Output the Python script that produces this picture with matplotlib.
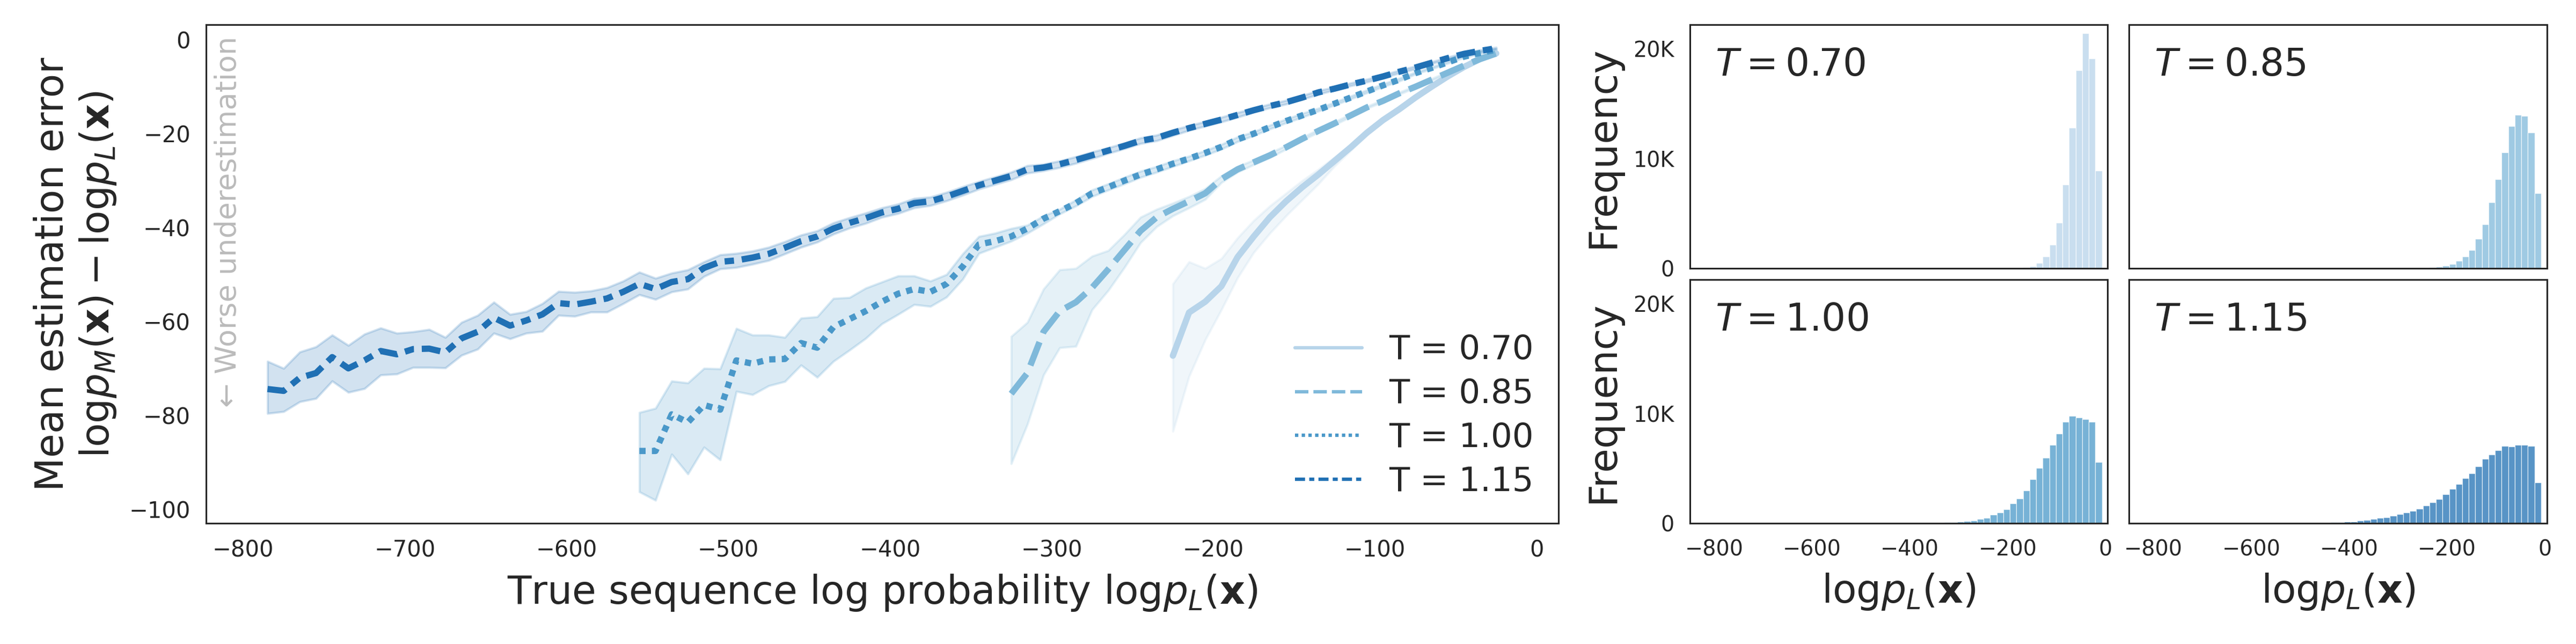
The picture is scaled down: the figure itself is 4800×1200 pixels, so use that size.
import numpy as np
import matplotlib.pyplot as plt

plt.rcParams['font.family'] = 'DejaVu Sans'
plt.rcParams['mathtext.fontset'] = 'dejavusans'
dark = '#262626'

# ---- left panel: mean estimation error per bin of log p_L(x) ----
temps = ['0.70', '0.85', '1.00', '1.15']

x_070 = np.arange(-225, -24, 10)
mean_070 = [-67.3, -58.1, -55.8, -52.5, -46.3, -41.9, -37.8, -34.4, -31.4, -28.7, -25.8,
            -22.9, -19.8, -17.1, -14.8, -12.3, -10.0, -7.8, -5.8, -4.1, -2.9]
hi_070 = [-52.0, -47.3, -48.7, -46.6, -42.2, -38.5, -35.4, -32.7, -30.0, -27.6, -25.0,
          -22.3, -19.3, -16.7, -14.5, -12.0, -9.8, -7.6, -5.6, -3.9, -2.7]
lo_070 = [-83.4, -71.7, -63.9, -57.5, -50.7, -45.3, -41.2, -37.5, -34.1, -30.7, -26.9,
          -23.6, -20.3, -17.5, -15.1, -12.6, -10.2, -8.0, -6.0, -4.3, -3.1]

x_085 = np.arange(-325, -24, 10)
mean_085 = [-75.4, -71.0, -62.2, -57.8, -55.9, -52.8, -48.9, -44.8, -40.7, -37.8, -36.0,
            -34.4, -32.7, -29.7, -27.6, -26.1, -24.6, -22.9, -21.1, -19.4, -17.8, -16.1,
            -14.4, -13.0, -11.4, -10.0, -8.5, -7.0, -5.5, -4.1, -2.9]
hi_085 = [-63.2, -60.2, -53.1, -49.0, -48.7, -46.1, -44.9, -41.5, -37.8, -36.1, -34.8,
          -33.4, -31.7, -29.0, -27.0, -25.6, -24.1, -22.5, -20.8, -19.1, -17.5, -15.8,
          -14.2, -12.8, -11.2, -9.8, -8.3, -6.8, -5.3, -3.9, -2.7]
lo_085 = [-90.3, -81.9, -71.4, -65.6, -65.3, -57.5, -53.4, -48.5, -43.2, -39.8, -37.5,
          -35.8, -34.0, -30.4, -28.2, -26.6, -25.1, -23.3, -21.4, -19.7, -18.1, -16.4,
          -14.6, -13.2, -11.6, -10.2, -8.7, -7.2, -5.7, -4.3, -3.1]

x_100 = np.arange(-555, -24, 10)
mean_100 = [-87.6, -87.6, -79.8, -81.5, -77.8, -78.8, -68.3, -69.0, -68.1, -68.0, -64.6,
            -65.6, -61.2, -59.5, -57.8, -55.8, -54.1, -53.1, -53.7, -52.0, -48.3, -43.6,
            -42.9, -41.9, -40.2, -38.1, -36.5, -34.8, -32.7, -31.4, -30.0, -28.7,
            -27.6, -26.4, -25.3, -24.1, -22.8, -21.2, -20.0, -18.6, -17.3, -16.1, -14.9,
            -13.6, -12.3, -11.0, -9.7, -8.5, -7.1, -6.0, -4.8, -3.6, -2.8, -2.1]
hi_100 = [-79.4, -78.5, -72.7, -73.1, -70.0, -70.1, -61.5, -62.9, -62.9, -63.4, -59.3,
          -59.0, -55.1, -54.9, -52.9, -51.6, -50.3, -50.3, -51.4, -50.0, -45.6, -41.9,
          -41.2, -40.2, -39.5, -37.5, -36.1, -34.1, -32.0, -30.7, -29.3, -28.0,
          -27.0, -25.8, -24.8, -23.6, -22.3, -20.7, -19.6, -18.2, -16.9, -15.7, -14.6,
          -13.3, -12.0, -10.7, -9.4, -8.2, -6.9, -5.8, -4.6, -3.4, -2.6, -1.9]
lo_100 = [-96.3, -98.1, -88.3, -92.5, -86.8, -89.5, -74.9, -75.6, -73.7, -72.8, -69.3,
          -71.9, -68.5, -66.1, -63.6, -60.5, -58.5, -56.4, -56.8, -54.8, -51.0, -45.5,
          -44.2, -42.9, -41.2, -39.2, -37.1, -35.4, -33.4, -32.0, -30.7, -29.3,
          -28.2, -27.0, -25.8, -24.6, -23.3, -21.7, -20.4, -19.0, -17.7, -16.5, -15.2,
          -13.9, -12.6, -11.3, -10.0, -8.8, -7.3, -6.2, -5.0, -3.8, -3.0, -2.3]

x_115 = np.arange(-785, -24, 10)
mean_115 = [-74.4, -74.8, -72.0, -71.0, -67.6, -70.0, -68.3, -66.3, -67.0, -65.9, -65.8,
            -66.6, -63.6, -62.2, -59.2, -60.9, -59.8, -58.5, -56.1, -56.4, -55.8, -55.1,
            -53.7, -52.0, -53.1, -51.6, -51.0, -48.6,
            -47.3, -47.0, -46.4, -45.6, -44.3, -42.9, -41.9, -40.2, -39.0, -38.0, -36.8,
            -36.0, -34.8, -34.4, -33.4, -32.2, -31.0, -30.0, -29.0, -27.6, -27.2, -26.5,
            -25.6, -24.6, -23.6, -22.6, -21.5,
            -20.9, -19.8, -18.8, -17.9, -17.0, -16.0, -15.0, -14.1, -13.3, -12.3, -11.2,
            -10.4, -9.5, -8.7, -7.8, -6.8, -5.9, -4.9, -3.9, -3.0, -2.35, -1.8]
hi_115 = [-68.5, -70.0, -66.5, -65.4, -62.9, -65.1, -62.7, -61.4, -62.5, -62.2, -61.7,
          -63.4, -60.2, -58.7, -55.9, -58.5, -57.9, -56.2, -53.6, -53.8, -53.5, -52.8,
          -51.4, -49.5, -50.8, -49.7, -49.0, -47.3,
          -45.8, -45.5, -45.0, -44.2, -43.0, -41.6, -40.7, -39.0, -37.9, -36.9, -35.8,
          -35.0, -33.8, -33.5, -32.5, -31.3, -30.2, -29.2, -28.2, -26.8, -26.5, -25.8,
          -24.9, -23.9, -23.0, -22.0, -20.9,
          -20.3, -19.2, -18.3, -17.4, -16.5, -15.5, -14.6, -13.7, -12.9, -11.9, -10.8,
          -10.1, -9.2, -8.4, -7.5, -6.5, -5.6, -4.7, -3.7, -2.8, -2.15, -1.6]
lo_115 = [-79.6, -79.2, -77.1, -76.4, -72.7, -75.1, -74.3, -71.4, -71.2, -69.8, -69.8,
          -69.9, -67.2, -65.9, -62.5, -63.7, -62.5, -62.1, -58.7, -58.9, -58.0, -58.0,
          -56.2, -54.3, -55.3, -53.7, -53.1, -50.4,
          -48.8, -48.5, -47.8, -47.0, -45.6, -44.2, -43.1, -41.4, -40.1, -39.1, -37.8,
          -37.0, -35.8, -35.3, -34.3, -33.1, -31.8, -30.8, -29.8, -28.4, -27.9, -27.2,
          -26.3, -25.3, -24.2, -23.2, -22.1,
          -21.5, -20.4, -19.3, -18.4, -17.5, -16.5, -15.4, -14.5, -13.7, -12.7, -11.6,
          -10.7, -9.8, -9.0, -8.1, -7.1, -6.2, -5.1, -4.1, -3.2, -2.55, -2.0]

# ---- right panels: histograms of log p_L(x) (shared bins, counts for the non-empty tail) ----
hist_edges = np.linspace(-786.8, -7.3, 59)
counts_070 = [10, 30, 90, 200, 490, 1070, 2170, 4140, 7620, 12810, 18060, 21450, 19130, 8930]
counts_085 = [10, 20, 30, 50, 90, 140, 230, 410, 670, 1070, 1650, 2670, 4000, 6000, 8140,
              10580, 12990, 14000, 13910, 12380, 6870]
counts_100 = [20, 30, 40, 60, 90, 120, 150, 200, 260, 380, 490, 790, 990, 1280, 1800, 2270,
              3000, 4020, 5040, 5970, 7130, 8180, 9230, 9810, 9640, 9490, 9230, 5590]
counts_115 = [10, 20, 30, 40, 50, 70, 90, 120, 150, 170, 230, 290, 380, 490, 550, 670, 820,
              960, 1110, 1310, 1600, 1890, 2180, 2620, 3110, 3550, 4130, 4570, 5210, 5880,
              6260, 6640, 7070, 6990, 7130, 7130, 7050, 3730]

colors = plt.cm.Blues([0.3, 0.45, 0.6, 0.75])
dash_styles = [None, (4, 1.5), (1, 1), (3, 1.25, 1.5, 1.25)]

fig = plt.figure(figsize=(16, 4), dpi=300)

# main panel
ax = fig.add_axes([0.08, 0.1875, 0.525, 0.774])
series = [(x_070, mean_070, lo_070, hi_070), (x_085, mean_085, lo_085, hi_085),
          (x_100, mean_100, lo_100, hi_100), (x_115, mean_115, lo_115, hi_115)]
for i, (xs, m, lo, hi) in enumerate(series):
    c = colors[i]
    ax.fill_between(xs, lo, hi, color=c, alpha=0.2, lw=1.0, zorder=1 + i)
    if dash_styles[i] is None:
        ax.plot(xs, m, color=c, lw=2.8, solid_capstyle='round',
                label='T = ' + temps[i], zorder=5 + i)
    else:
        ax.plot(xs, m, color=c, lw=2.8, dashes=dash_styles[i],
                label='T = ' + temps[i], zorder=5 + i)

ax.set_xlim(-823, 13.5)
ax.set_ylim(-103, 3.2)
ax.set_xticks(np.arange(-800, 1, 100))
ax.set_yticks(np.arange(-100, 1, 20))
ax.tick_params(length=0, pad=7, labelsize=10, colors=dark)
for s in ax.spines.values():
    s.set_color(dark)
    s.set_linewidth(0.75)
ax.set_xlabel(r'True sequence log probability $\mathrm{log}p_L(\mathbf{x})$',
              fontsize=17.5, color=dark, labelpad=5)
ax.set_ylabel('Mean estimation error\n'
              r'$\mathrm{log}p_M(\mathbf{x}) - \mathrm{log}p_L(\mathbf{x})$',
              fontsize=17.5, color=dark, labelpad=5)
ax.text(0.0163, 0.977, '\u2190 Worse underestimation', rotation=90, ha='center', va='top',
        fontsize=13, color='#bbbbbb', transform=ax.transAxes)

leg = ax.legend(loc='lower right', frameon=False, fontsize=15, labelspacing=0.35,
                borderaxespad=0.35)
for t in leg.get_texts():
    t.set_color(dark)
for ln in leg.get_lines():
    ln.set_linewidth(1.5)

# histogram panels
hist_counts = [counts_070, counts_085, counts_100, counts_115]
lefts = [0.656, 0.8265]
bottoms = [0.5833, 0.1875]
for i, counts in enumerate(hist_counts):
    row, col = i // 2, i % 2
    axh = fig.add_axes([lefts[col], bottoms[row], 0.1622, 0.378])
    edges = hist_edges[-(len(counts) + 1):]
    centers = (edges[:-1] + edges[1:]) / 2
    axh.hist(centers, bins=edges, weights=counts, color=colors[i], alpha=0.75,
             edgecolor='white', linewidth=0.3)
    axh.set_xlim(-850, 4.6)
    axh.set_ylim(0, 22200)
    axh.set_xticks([-800, -600, -400, -200, 0])
    axh.set_yticks([0, 10000, 20000])
    axh.set_yticklabels(['0', '10K', '20K'])
    axh.tick_params(length=0, pad=7, labelsize=9.5, colors=dark,
                    labelleft=(col == 0), labelbottom=(row == 1))
    for s in axh.spines.values():
        s.set_color(dark)
        s.set_linewidth(0.75)
    axh.text(0.06, 0.91, r'$T = ' + temps[i] + '$', transform=axh.transAxes,
             ha='left', va='top', fontsize=17, color=dark)
    if col == 0:
        axh.set_ylabel('Frequency', fontsize=17.5, color=dark, labelpad=5)
    if row == 1:
        axh.set_xlabel(r'$\mathrm{log}p_L(\mathbf{x})$', fontsize=17.5, color=dark, labelpad=5)

fig.savefig('out.png', dpi=300)
